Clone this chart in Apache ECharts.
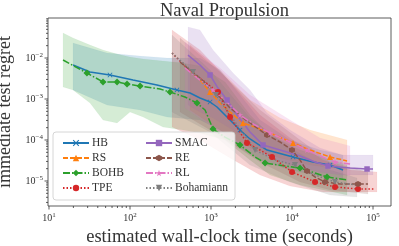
<!DOCTYPE html>
<html><head><meta charset="utf-8">
<script src="https://cdn.jsdelivr.net/npm/echarts@6/dist/echarts.min.js"></script>
<style>html,body{margin:0;padding:0;background:#fff}#c{width:399px;height:246px}</style>
</head><body><div id="c"></div>
<script>
// ---------------- data ----------------
const xMin = 9.72, xMax = 1.667e5, yMin = 2.455e-6, yMax = 0.0946;

const hbX = [19.8, 32.1, 56.6, 109, 215, 380, 551, 731, 973, 1186, 1622, 2281, 3030, 4914, 10290, 18160, 29450, 42660];
const hbY = [6.75e-3, 4.56e-3, 3.85e-3, 2.90e-3, 2.19e-3, 1.66e-3, 1.40e-3, 1.06e-3, 8.45e-4, 6.38e-4, 3.44e-4, 1.75e-4, 1.06e-4, 5.70e-5, 3.85e-5, 2.90e-5, 2.45e-5, 1.85e-5];
const hbMarks = [2, 5, 8, 11, 14, 16];
const hbBandX = [19.8, 52.0, 133, 286, 731, 1291, 2281, 4029, 9445, 22180, 42660];
const hbBandHi = [0.0232, 0.0132, 0.0112, 0.0100, 0.0100, 5.09e-3, 1.25e-3, 3.08e-4, 1.0e-4, 5.70e-5, 4.31e-5];
const hbBandLo = [1.66e-3, 7.14e-4, 5.39e-4, 3.64e-4, 3.08e-4, 1.75e-4, 6.38e-5, 3.25e-5, 1.85e-5, 1.32e-5, 1.06e-5];

const rsX = [551, 731, 973, 1291, 1718, 2483, 3494, 5350, 10290, 16690, 29450, 47760];
const rsY = [5.09e-3, 2.90e-3, 1.48e-3, 7.98e-4, 4.82e-4, 2.60e-4, 2.07e-4, 1.48e-4, 8.45e-5, 5.70e-5, 3.85e-5, 3.08e-5];
const rsMarks = [2, 5, 8, 10];
const rsBandX = [551, 1291, 3030, 7114, 16690, 47760];
const rsBandHi = [0.0207, 5.09e-3, 9.45e-4, 3.44e-4, 1.75e-4, 1.0e-4];
const rsBandLo = [5.39e-4, 1.75e-4, 6.38e-5, 3.64e-5, 2.45e-5, 1.85e-5];

const bohbX = [14.9, 29.4, 46.4, 69.2, 91.9, 133, 235, 312, 477, 671, 844, 1059, 1489, 2281, 3494, 4645, 8202, 12560, 19230, 27050, 47760];
const bohbY = [8.94e-3, 4.31e-3, 2.60e-3, 2.60e-3, 2.32e-3, 2.07e-3, 1.75e-3, 1.48e-3, 1.12e-3, 7.98e-4, 5.39e-4, 1.85e-4, 1.18e-4, 7.55e-5, 3.85e-5, 2.75e-5, 2.32e-5, 2.07e-5, 1.57e-5, 1.25e-5, 1.06e-5];
const bohbMarks = [1, 2, 3, 4, 5, 7, 9, 11, 13, 15, 17, 19];
const bohbBandX = [14.9, 19.8, 32.1, 46.4, 69.2, 100, 145, 255, 451, 731, 1489, 3030, 5350, 12560, 47760];
const bohbBandHi = [0.0407, 0.0308, 0.0207, 0.0157, 0.0125, 0.0106, 9.45e-3, 8.45e-3, 7.55e-3, 6.38e-3, 2.60e-3, 4.07e-4, 1.32e-4, 5.70e-5, 2.45e-5];
const bohbBandLo = [1.96e-3, 1.66e-3, 7.98e-4, 3.08e-4, 2.60e-4, 4.82e-4, 3.64e-4, 2.07e-4, 1.75e-4, 1.48e-4, 1.0e-4, 3.25e-5, 1.40e-5, 7.98e-6, 4.56e-6];

const tpeX = [330, 477, 634, 844, 1220, 1718, 2782, 4029, 5664, 10000, 19230, 33960, 65300, 105900];
const tpeY = [1.32e-2, 6.38e-3, 3.85e-3, 2.60e-3, 1.48e-3, 3.64e-4, 8.45e-5, 5.70e-5, 3.85e-5, 1.66e-5, 9.45e-6, 7.14e-6, 6.38e-6, 6.38e-6];
const tpeMarks = [4, 5, 6, 8, 9, 10, 11, 12];
const tpeBandX = [330, 731, 1718, 4029, 9445, 24160, 52020, 112000];
const tpeBandHi = [0.0482, 0.0157, 2.60e-3, 4.07e-4, 1.12e-4, 3.25e-5, 1.85e-5, 1.66e-5];
const tpeBandLo = [2.07e-4, 1.0e-4, 3.64e-5, 1.40e-5, 7.55e-6, 5.39e-6, 5.39e-6, 5.39e-6];

const smacX = [520, 731, 973, 1220, 1577, 2095, 3030, 4389, 7114, 12560, 19230, 27820, 52020, 84400, 100000];
const smacY = [1.18e-2, 6.75e-3, 3.85e-3, 1.85e-3, 9.45e-4, 4.07e-4, 1.57e-4, 7.55e-5, 5.70e-5, 4.07e-5, 2.90e-5, 2.32e-5, 2.07e-5, 1.96e-5, 1.96e-5];
const smacMarks = [2, 4, 7, 11, 13];
const smacBandX = [520, 731, 1059, 1871, 3030, 4914, 9445, 22180, 41420, 100000];
const smacBandHi = [0.0570, 0.0482, 0.0157, 4.31e-3, 1.66e-3, 4.56e-4, 1.75e-4, 6.38e-5, 4.31e-5, 4.31e-5];
const smacBandLo = [7.14e-4, 4.82e-4, 3.44e-4, 1.75e-4, 8.94e-5, 4.31e-5, 2.45e-5, 1.66e-5, 1.40e-5, 1.40e-5];

const reX = [414, 731, 1120, 1718, 3030, 4914, 7114, 10000, 12560, 15320, 19230, 25550, 39180, 65300, 86700];
const reY = [7.98e-3, 3.25e-3, 1.48e-3, 6.03e-4, 2.60e-4, 1.32e-4, 8.94e-5, 5.70e-5, 3.25e-5, 1.75e-5, 1.25e-5, 9.45e-6, 8.45e-6, 8.45e-6, 8.45e-6];
const reMarks = [5, 7, 9, 11, 13];
const reBandX = [414, 1291, 4029, 12560, 29450, 86700];
const reBandHi = [0.0308, 4.56e-3, 5.39e-4, 1.0e-4, 2.90e-5, 1.66e-5];
const reBandLo = [4.82e-4, 1.25e-4, 2.90e-5, 9.45e-6, 6.03e-6, 4.82e-6];

const rlX = [477, 731, 1059, 1489, 2281, 3494, 5350, 9445, 15320, 22180, 33960, 52020];
const rlY = [5.70e-3, 2.90e-3, 1.66e-3, 9.45e-4, 4.07e-4, 2.32e-4, 1.48e-4, 8.94e-5, 5.70e-5, 4.07e-5, 2.90e-5, 2.60e-5];
const rlMarks = [2, 4, 6, 8, 10];
const rlBandX = [477, 1291, 3030, 9445, 22180, 52020];
const rlBandHi = [0.0245, 5.70e-3, 1.25e-3, 3.08e-4, 1.12e-4, 7.14e-5];
const rlBandLo = [6.03e-4, 1.57e-4, 5.70e-5, 2.45e-5, 1.66e-5, 1.32e-5];

const bohX = [330, 600, 844, 1153, 1979, 3494, 6169, 10890, 19230, 33960, 63450];
const bohY = [1.32e-2, 4.56e-3, 2.32e-3, 1.25e-3, 2.75e-4, 5.70e-5, 3.25e-5, 2.45e-5, 1.40e-5, 9.45e-6, 7.98e-6];
const bohMarks = [1, 3, 5, 7, 9];
const bohBandX = [330, 973, 3030, 9445, 29450, 63450];
const bohBandHi = [0.0364, 5.09e-3, 3.44e-4, 6.38e-5, 1.85e-5, 1.18e-5];
const bohBandLo = [4.82e-4, 1.57e-4, 2.45e-5, 9.45e-6, 4.56e-6, 4.07e-6];

const legendCol1 = ['HB', 'RS', 'BOHB', 'TPE'];
const legendCol2 = ['SMAC', 'RE', 'RL', 'Bohamiann'];

// ---------------- styling ----------------
const FONT = 'Liberation Serif';
const INK = '#333';
const X_PATH = 'path://M0,1.2L1.2,0L5,3.8L8.8,0L10,1.2L6.2,5L10,8.8L8.8,10L5,6.2L1.2,10L0,8.8L3.8,5Z';
const HEX_PATH = 'path://M5,0L9.33,2.5L9.33,7.5L5,10L0.67,7.5L0.67,2.5Z';
const STAR_PATH = 'path://M5,0L6.2,3.6L10,3.6L6.9,5.9L8.1,9.5L5,7.3L1.9,9.5L3.1,5.9L0,3.6L3.8,3.6Z';

const methods = [
  {name:'HB', x:hbX, y:hbY, marks:hbMarks, bx:hbBandX, hi:hbBandHi, lo:hbBandLo, color:'#1f77b4', dash:'solid', symbol:X_PATH, size:5},
  {name:'RS', x:rsX, y:rsY, marks:rsMarks, bx:rsBandX, hi:rsBandHi, lo:rsBandLo, color:'#ff7f0e', dash:[5,2], symbol:'triangle', size:6},
  {name:'BOHB', x:bohbX, y:bohbY, marks:bohbMarks, bx:bohbBandX, hi:bohbBandHi, lo:bohbBandLo, color:'#2ca02c', dash:[7,2,1.5,2], symbol:'diamond', size:7},
  {name:'TPE', x:tpeX, y:tpeY, marks:tpeMarks, bx:tpeBandX, hi:tpeBandHi, lo:tpeBandLo, color:'#d62728', dash:[1.5,2], symbol:'circle', size:6},
  {name:'SMAC', x:smacX, y:smacY, marks:smacMarks, bx:smacBandX, hi:smacBandHi, lo:smacBandLo, color:'#9467bd', dash:'solid', symbol:'rect', size:5.5},
  {name:'RE', x:reX, y:reY, marks:reMarks, bx:reBandX, hi:reBandHi, lo:reBandLo, color:'#8c564b', dash:[5,2], symbol:HEX_PATH, size:6},
  {name:'RL', x:rlX, y:rlY, marks:rlMarks, bx:rlBandX, hi:rlBandHi, lo:rlBandLo, color:'#e377c2', dash:[7,2,1.5,2], symbol:STAR_PATH, size:6},
  {name:'Bohamiann', x:bohX, y:bohY, marks:bohMarks, bx:bohBandX, hi:bohBandHi, lo:bohBandLo, color:'#7f7f7f', dash:[1.5,2], symbol:'triangle', rotate:180, size:6}
];

const series = [];
methods.forEach(function (m) {
  series.push({
    type: 'custom', name: m.name + ' band', silent: true, z: 1, clip: true,
    data: m.bx.map(function (x, i) { return [x, m.lo[i], m.hi[i]]; }),
    renderItem: function (params, api) {
      if (params.dataIndex !== 0) return null;
      const up = [], dn = [];
      for (let i = 0; i < m.bx.length; i++) {
        up.push(api.coord([m.bx[i], m.hi[i]]));
        dn.push(api.coord([m.bx[i], m.lo[i]]));
      }
      return {type: 'polygon', shape: {points: up.concat(dn.reverse())},
        style: {fill: m.color, opacity: 0.2, stroke: m.color, lineWidth: 0.5, strokeOpacity: 0.3}};
    }
  });
});
methods.forEach(function (m) {
  series.push({
    type: 'line', name: m.name, z: 2, smooth: false, showAllSymbol: true,
    symbol: m.symbol, symbolSize: m.size, symbolRotate: m.rotate || 0,
    itemStyle: {color: m.color},
    lineStyle: {color: m.color, width: 1.5, type: m.dash},
    data: m.x.map(function (x, i) {
      return {value: [x, m.y[i]], symbol: m.marks.indexOf(i) >= 0 ? m.symbol : 'none'};
    })
  });
});

// manual major/minor ticks (matplotlib style), placed through the axes' scales
const xTicks = [], yTicks = [];
for (let d = 0; d <= 5; d++) for (let k = 1; k <= 9; k++) {
  const v = k * Math.pow(10, d);
  if (v >= xMin && v <= xMax) xTicks.push([v, yMin, k === 1 ? 1 : 0]);
}
for (let d = -6; d <= -1; d++) for (let k = 1; k <= 9; k++) {
  const v = k * Math.pow(10, d);
  if (v >= yMin && v <= yMax) yTicks.push([xMin, v, k === 1 ? 1 : 0]);
}
series.push({
  type: 'custom', silent: true, z: 3, clip: false, data: xTicks,
  renderItem: function (p, api) {
    const c = api.coord([api.value(0), api.value(1)]);
    const len = api.value(2) ? 3.5 : 2;
    return {type: 'line', shape: {x1: c[0], y1: c[1], x2: c[0], y2: c[1] + len}, style: {stroke: INK, lineWidth: 0.8}};
  }
});
series.push({
  type: 'custom', silent: true, z: 3, clip: false, data: yTicks,
  renderItem: function (p, api) {
    const c = api.coord([api.value(0), api.value(1)]);
    const len = api.value(2) ? 3.5 : 2;
    return {type: 'line', shape: {x1: c[0] - len, y1: c[1], x2: c[0], y2: c[1]}, style: {stroke: INK, lineWidth: 0.8}};
  }
});

function powLabel(v) {
  const l = Math.log10(v), e = Math.round(l);
  if (Math.abs(l - e) > 1e-6) return '';
  return '{b|10}{s|' + (e < 0 ? '\u2212' : '') + Math.abs(e) + '}';
}
const rich = {
  b: {fontFamily: FONT, fontSize: 10, color: INK},
  s: {fontFamily: FONT, fontSize: 7, color: INK, padding: [0, 0, 5, 0]}
};

const legendCommon = {
  orient: 'vertical', top: 132, itemWidth: 26, itemHeight: 8, itemGap: 3,
  textStyle: {fontFamily: FONT, fontSize: 11.5, color: INK, padding: [0, 0, 0, -2]}, selectedMode: false
};

const chart = echarts.init(document.getElementById('c'), null, {renderer: 'canvas'});
chart.setOption({
  animation: false,
  backgroundColor: '#fff',
  title: {text: 'Naval Propulsion', left: 219.5, textAlign: 'center', top: -3,
    textStyle: {fontFamily: FONT, fontSize: 18.5, fontWeight: 'normal', color: INK}},
  grid: {left: 48, right: 8, top: 18, bottom: 40, show: true, borderColor: INK, borderWidth: 0.8,
    containLabel: false, outerBoundsMode: 'none'},
  xAxis: {
    type: 'log', logBase: 10, min: xMin, max: xMax,
    name: 'estimated wall-clock time (seconds)', nameLocation: 'middle', nameGap: 17,
    nameTextStyle: {fontFamily: FONT, fontSize: 18.5, color: INK},
    axisLine: {show: false}, axisTick: {show: false}, splitLine: {show: false},
    axisLabel: {formatter: powLabel, rich: rich, margin: 6, interval: 0}
  },
  yAxis: {
    type: 'log', logBase: 10, min: yMin, max: yMax,
    name: 'immediate test regret', nameLocation: 'middle', nameGap: 28,
    nameTextStyle: {fontFamily: FONT, fontSize: 18, color: INK},
    axisLine: {show: false}, axisTick: {show: false}, splitLine: {show: false},
    axisLabel: {formatter: powLabel, rich: rich, margin: 5, interval: 0}
  },
  legend: [
    Object.assign({data: legendCol1, left: 57}, legendCommon),
    Object.assign({data: legendCol2, left: 140}, legendCommon)
  ],
  graphic: [{
    type: 'rect', z: 3, silent: true,
    shape: {x: 53, y: 132, width: 182, height: 68, r: 3},
    style: {fill: 'rgba(255,255,255,0.8)', stroke: '#cccccc', lineWidth: 0.8}
  }],
  series: series
});
</script>
</body></html>
